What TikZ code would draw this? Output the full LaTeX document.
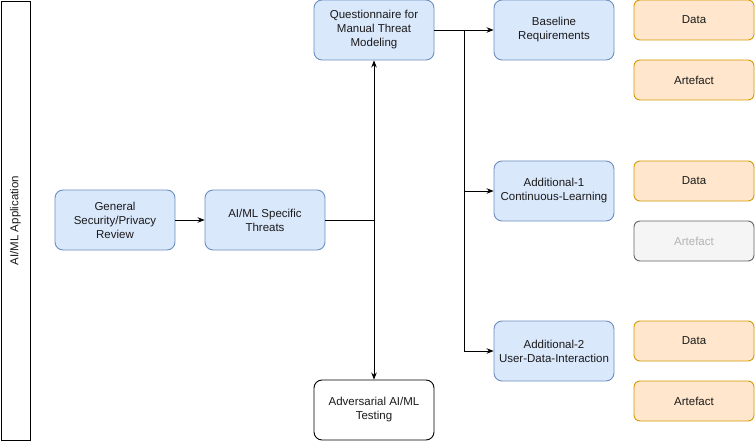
\documentclass[tikz,border=0pt]{standalone}
\usepackage{fontspec}
\setmainfont{Liberation Sans}
\usetikzlibrary{arrows.meta}
\definecolor{bluefill}{HTML}{DAE8FC}
\definecolor{blueline}{HTML}{6C8EBF}
\definecolor{orfill}{HTML}{FFE6CC}
\definecolor{orline}{HTML}{D79B00}
\definecolor{grfill}{HTML}{F5F5F5}
\definecolor{grline}{HTML}{666666}
\definecolor{grtext}{HTML}{B3B3B3}
\definecolor{txt}{HTML}{1A1A1A}
\begin{document}
\begin{tikzpicture}[x=1pt,y=-1pt,
  every node/.style={font=\fontsize{11.5}{14}\selectfont, text=txt, align=center, inner sep=0pt},
  box/.style={draw, line width=0.9pt, rounded corners=8pt, minimum width=120pt, minimum height=60pt},
  bluebox/.style={box, fill=bluefill, draw=blueline},
  whitebox/.style={box, fill=white, draw=black},
  smallbox/.style={draw, line width=0.9pt, rounded corners=6pt, minimum width=120pt, minimum height=40pt},
  orbox/.style={smallbox, fill=orfill, draw=orline},
  grbox/.style={smallbox, fill=grfill, draw=grline, text=grtext},
  conn/.style={line width=0.9pt, draw=black},
  arr/.style={conn, -{Stealth[length=7pt,width=5.5pt]}}
]
\useasboundingbox (0,0) rectangle (755,441);
\fill[white] (0,0) rectangle (755,441);

\node[draw=black, line width=0.9pt, fill=white, minimum width=29pt, minimum height=439pt] (app) at (15.5,220.5) {};
\node[rotate=90] (applabel) at (15.5,220.5) {AI/ML Application};

\node[bluebox] (gen) at (115,220) {General\\Security/Privacy\\Review};
\node[bluebox] (spec) at (265,220) {AI/ML Specific\\Threats};
\node[bluebox] (quest) at (374,30) {Questionnaire for\\Manual Threat\\Modeling};
\node[whitebox] (adv) at (374,410) {Adversarial AI/ML\\Testing};
\node[bluebox] (base) at (554,30) {Baseline\\Requirements};
\node[bluebox] (add1) at (554,191) {Additional-1\\Continuous-Learning};
\node[bluebox] (add2) at (554,351) {Additional-2\\User-Data-Interaction};

\node[orbox] (d1) at (694,20) {Data};
\node[orbox] (a1) at (694,80) {Artefact};
\node[orbox] (d2) at (694,181) {Data};
\node[grbox] (a2) at (694,241) {Artefact};
\node[orbox] (d3) at (694,341) {Data};
\node[orbox] (a3) at (694,401) {Artefact};

\coordinate (j1) at (374,220);
\coordinate (j2) at (464,30);

\draw[arr] (gen) -- (spec);
\draw[conn] (spec.east) -- (j1);
\draw[arr] (j1) -- (quest.south);
\draw[arr] (j1) -- (adv.north);
\draw[arr] (quest.east) -- (base.west);
\draw[arr] (j2) |- (add1.west);
\draw[arr] (j2) |- (add2.west);
\end{tikzpicture}
\end{document}
